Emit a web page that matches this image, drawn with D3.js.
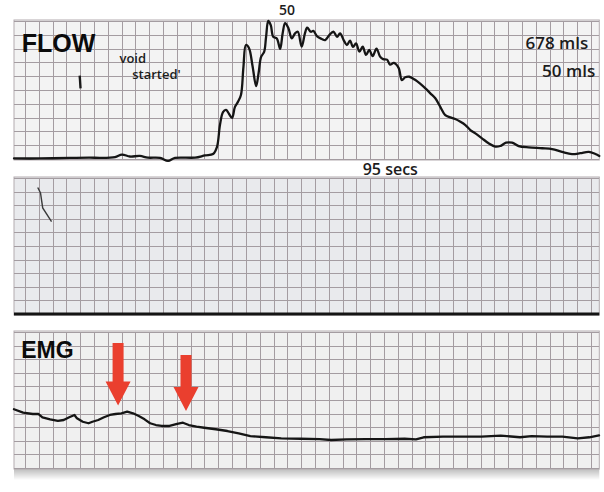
<!DOCTYPE html>
<html>
<head>
<meta charset="utf-8">
<script src="https://cdn.jsdelivr.net/npm/d3@7/dist/d3.min.js"></script>
<style>
  body { margin: 0; background: #fff; }
  svg { display: block; }
  .grid line { stroke: #a49ca1; stroke-width: 1; shape-rendering: crispEdges; }
  .trace { fill: none; stroke: #151515; stroke-width: 2.3; stroke-linejoin: round; stroke-linecap: round; }
  .label { font-family: "Liberation Sans", Arial, sans-serif; font-weight: bold; fill: #0b0b0b; }
  .hand { font-family: "Open Sans", "DejaVu Sans", sans-serif; font-weight: 600; fill: #1c1c1c; }
</style>
</head>
<body>
<svg id="chart" width="604" height="492"></svg>
<script>
// time (s) along the strip, one grid column = 5 s
var gridTimes = d3.range(0, 206, 5);
var flowGrid = d3.range(0, 51, 5);   // ml/s
var levelGrid = d3.range(0, 11, 1);  // arbitrary units

// uroflow trace
var flowTime = [
  -4, 5.4, 16.3, 23.5, 27.2, 32.6, 35.1, 38.0, 41.6, 44.5,
  48.9, 51.8, 54.3, 61.6, 65.2, 68.1, 69.5, 70.6, 71.7, 72.8,
  73.9, 75.0, 76.0, 77.1, 78.2, 79.1, 80.0, 81.1, 82.4, 83.7,
  84.6, 85.5, 86.6, 87.3, 88.1, 89.0, 89.9, 91.2, 92.4, 93.3,
  94.2, 95.4, 96.6, 97.8, 98.8, 100.2, 101.4, 102.2, 103.5, 104.4,
  105.9, 107.5, 108.7, 110.2, 111.7, 113.0, 114.1, 115.4, 116.6, 117.7,
  118.8, 119.9, 121.1, 122.3, 123.5, 124.7, 125.9, 127.3, 128.6, 129.7,
  131.1, 132.2, 133.6, 135.3, 136.5, 137.7, 139.2, 141.4, 143.2, 145.0,
  146.8, 148.6, 150.4, 152.2, 154.0, 155.8, 157.7, 159.5, 161.3, 163.1,
  165.5, 167.9, 170.3, 172.1, 174.2, 176.4, 178.8, 182.4, 187.3, 190.9,
  194.5, 198.1, 201.1, 204.2, 206.6, 208
];
var flowRate = [
  0.2, 0.2, 0.4, 0.5, 0.4, 0.7, 1.6, 0.9, 1.1, 0.5,
  0.4, -0.7, 0.4, 0.5, 1.3, 1.8, 4.3, 12.3, 17.0, 17.8,
  16.3, 14.9, 18.8, 20.7, 23.2, 33.3, 41.3, 40.2, 33.7, 26.4,
  31.2, 37.0, 38.8, 44.2, 50.0, 48.5, 44.3, 43.7, 39.9, 45.5,
  49.2, 47.4, 43.7, 45.5, 46.1, 40.7, 45.6, 47.6, 46.1, 46.4,
  44.3, 43.5, 43.1, 44.9, 46.1, 44.3, 45.5, 43.1, 41.3, 42.9,
  40.6, 41.9, 38.9, 40.7, 37.7, 39.5, 37.3, 40.0, 37.1, 36.2,
  36.0, 34.2, 34.8, 33.0, 28.6, 29.6, 29.8, 28.6, 27.2, 25.6,
  23.8, 22.0, 18.9, 15.9, 15.1, 14.5, 13.5, 12.3, 10.5, 9.3,
  7.5, 5.7, 4.5, 4.7, 5.9, 5.9, 4.7, 4.2, 3.9, 3.6,
  2.6, 1.8, 2.1, 2.6, 1.8, 1.1
];

// EMG trace
var emgTime = [
  -4.0, -0.7, 2.8, 4.9, 6.3, 9.1, 11.9, 14.0, 16.0, 17.9,
  18.8, 20.9, 23.0, 24.4, 26.5, 28.6, 30.7, 32.8, 34.9, 37.0,
  39.1, 41.2, 43.3, 45.3, 47.4, 49.5, 52.3, 55.1, 57.2, 59.3,
  62.1, 64.9, 69.1, 73.3, 77.4, 81.6, 87.2, 92.8, 99.8, 106.7,
  110.9, 116.5, 123.5, 130.5, 137.5, 141.6, 144.4, 151.4, 158.3, 165.3,
  172.3, 179.3, 183.5, 189.1, 194.6, 200.2, 204.4, 207.9
];
var emgLevel = [
  4.32, 4.07, 3.97, 3.97, 3.73, 3.58, 3.46, 3.53, 3.73, 3.90,
  3.65, 3.40, 3.29, 3.40, 3.53, 3.73, 3.90, 3.97, 4.02, 4.14,
  4.02, 3.82, 3.58, 3.29, 3.16, 3.09, 3.09, 3.24, 3.33, 3.16,
  3.04, 2.96, 2.85, 2.72, 2.55, 2.35, 2.26, 2.18, 2.15, 2.13,
  2.06, 2.11, 2.13, 2.13, 2.15, 2.11, 2.26, 2.30, 2.30, 2.30,
  2.38, 2.26, 2.35, 2.30, 2.30, 2.18, 2.26, 2.40
];

// red arrows on the EMG strip
var arrowTime = [33.7, 58.3];
var arrowTop = [9.2, 8.3];
var arrowTip = [4.6, 4.2];

var svg = d3.select("#chart");

var x = d3.scaleLinear().domain([-4, 208]).range([14, 599.3]);
var yFlow = d3.scaleLinear().domain([0, 50]).range([159, 21]);
var yMid = d3.scaleLinear().domain([0, 10]).range([314, 178]);
var yEmg = d3.scaleLinear().domain([0, 10]).range([468, 332]);

var x0 = x(-4), x1 = x(208);

// bottom shadow of the EMG strip
var defs = svg.append("defs");
var grad = defs.append("linearGradient").attr("id", "shade")
  .attr("x1", 0).attr("y1", 0).attr("x2", 0).attr("y2", 1);
grad.append("stop").attr("offset", "0%").attr("stop-color", "#bdbdbd");
grad.append("stop").attr("offset", "100%").attr("stop-color", "#ffffff");
svg.append("rect")
  .attr("x", x0).attr("y", yEmg(0) + 1)
  .attr("width", x1 - x0).attr("height", 11)
  .attr("fill", "url(#shade)");

function strip(yScale, rows, paper) {
  var top = yScale(yScale.domain()[1]), bottom = yScale(yScale.domain()[0]);
  var g = svg.append("g");
  g.append("rect")
    .attr("x", x0).attr("y", top - 1)
    .attr("width", x1 - x0).attr("height", bottom - top + 2)
    .attr("fill", paper)
    .attr("stroke", "#b3acb0");
  g.append("g").attr("class", "grid")
    .attr("transform", "translate(0," + bottom + ")")
    .call(d3.axisBottom(x).tickValues(gridTimes).tickSize(-(bottom - top)).tickFormat(""))
    .call(function (s) { s.select(".domain").remove(); });
  g.append("g").attr("class", "grid")
    .attr("transform", "translate(" + x0 + ",0)")
    .call(d3.axisLeft(yScale).tickValues(rows).tickSize(-(x1 - x0)).tickFormat(""))
    .call(function (s) { s.select(".domain").remove(); });
  return g;
}

var flowStrip = strip(yFlow, flowGrid, "#f3f3f3");
var midStrip = strip(yMid, levelGrid.slice(1), "#e9eaed");
var emgStrip = strip(yEmg, levelGrid, "#f0f0f0");

// thick base line of the middle strip
midStrip.append("line")
  .attr("x1", x0).attr("x2", x1)
  .attr("y1", yMid(0)).attr("y2", yMid(0))
  .attr("stroke", "#141414").attr("stroke-width", 3);

// pen mark in the middle strip
midStrip.append("path")
  .attr("d", d3.line()([[x(4.6), yMid(9.3)], [x(5.6), yMid(8.9)], [x(6.4), yMid(7.8)], [x(9.6), yMid(6.8)]]))
  .attr("fill", "none").attr("stroke", "#3a3a3a").attr("stroke-width", 1.4);

// traces
var flowLine = d3.line()
  .x(function (d) { return x(d[0]); })
  .y(function (d) { return yFlow(d[1]); })
  .curve(d3.curveCatmullRom.alpha(0.5));
flowStrip.append("path")
  .attr("class", "trace")
  .attr("d", flowLine(d3.zip(flowTime, flowRate)));

var emgLine = d3.line()
  .x(function (d) { return x(d[0]); })
  .y(function (d) { return yEmg(d[1]); });
emgStrip.append("path")
  .attr("class", "trace")
  .attr("d", emgLine(d3.zip(emgTime, emgLevel)));

// arrows
emgStrip.selectAll(".arrow")
  .data(d3.zip(arrowTime, arrowTop, arrowTip))
  .enter().append("path")
  .attr("class", "arrow")
  .attr("fill", "#ea3f2e")
  .attr("d", function (d) {
    var cx = x(d[0]), ty = yEmg(d[1]), tip = yEmg(d[2]);
    var head = 24, sw = 5.5, hw = 12.5;
    return "M" + (cx - sw) + "," + ty + "L" + (cx + sw) + "," + ty +
      "L" + (cx + sw) + "," + (tip - head) + "L" + (cx + hw) + "," + (tip - head) +
      "L" + cx + "," + tip + "L" + (cx - hw) + "," + (tip - head) +
      "L" + (cx - sw) + "," + (tip - head) + "Z";
  });

// strip labels
svg.append("text").attr("class", "label")
  .attr("x", x(-1.2)).attr("y", yFlow(38.8))
  .style("font-size", "25px").text("FLOW");
svg.append("text").attr("class", "label")
  .attr("x", x(-1.4)).attr("y", yEmg(8.1))
  .style("font-size", "23px").text("EMG");

// handwritten notes
var notes = [
  { t: "50", tx: 92, v: 52.3, size: 14, anchor: "start" },
  { t: "void", tx: 34.2, v: 34.8, size: 13, anchor: "start" },
  { t: "started'", tx: 38.8, v: 29, size: 13, anchor: "start" },
  { t: "678 mls", tx: 204, v: 39.9, size: 17, anchor: "end" },
  { t: "50 mls", tx: 206.5, v: 29.8, size: 17, anchor: "end" }
];
flowStrip.selectAll(".hand")
  .data(notes)
  .enter().append("text")
  .attr("class", "hand")
  .attr("x", function (d) { return x(d.tx); })
  .attr("y", function (d) { return yFlow(d.v); })
  .attr("text-anchor", function (d) { return d.anchor; })
  .style("font-size", function (d) { return d.size + "px"; })
  .text(function (d) { return d.t; });

svg.append("text").attr("class", "hand")
  .attr("x", x(122.3)).attr("y", 175)
  .style("font-size", "16px").text("95 secs");

// small pen stroke under FLOW
flowStrip.append("line")
  .attr("x1", x(19.8)).attr("x2", x(20.1))
  .attr("y1", yFlow(30.2)).attr("y2", yFlow(25.6))
  .attr("stroke", "#1a1a1a").attr("stroke-width", 2.4);
</script>
</body>
</html>
